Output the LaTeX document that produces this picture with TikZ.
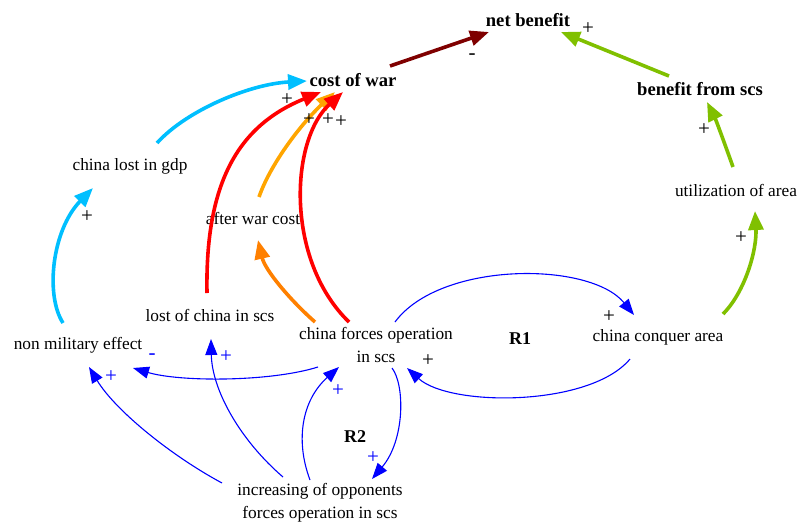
\documentclass[tikz,border=0pt]{standalone}
\usepackage{fontspec}
\setmainfont{Liberation Serif}
\usetikzlibrary{arrows.meta,calc}

\definecolor{darkred}{HTML}{7F0000}
\definecolor{lime}{HTML}{80C000}
\definecolor{sky}{HTML}{00BFFF}
\definecolor{amber}{HTML}{FFA500}
\definecolor{darkorange}{HTML}{FF8000}
\definecolor{linkblue}{HTML}{0000FF}

\tikzset{
  var/.style={inner sep=0pt, align=center, font=\fontsize{17.3}{23}\selectfont},
  keyvar/.style={var, font=\fontsize{18.6}{23}\selectfont\bfseries},
  looplabel/.style={var, font=\fontsize{18}{23}\selectfont\bfseries},
  heavy/.style={line width=3.6pt, -{Triangle[length=19pt,width=15pt]}},
  thin/.style={line width=1.1pt, linkblue, -{Triangle[length=16pt,width=12pt]}},
  pol/.style={inner sep=0pt, font=\fontsize{21}{23}\selectfont},
  bpol/.style={pol, text=linkblue}
}

\begin{document}
\begin{tikzpicture}[x=1pt,y=-1pt]
\useasboundingbox (0,0) rectangle (797,523);

% variables
\node[keyvar] (nb)  at (528,20)  {net benefit};
\node[keyvar] (cw)  at (353,80)  {cost of war};
\node[keyvar] (bs)  at (700,89)  {benefit from scs};
\node[var]    (gdp) at (130,166) {china lost in gdp};
\node[var]    (aw)  at (253,218) {after war cost};
\node[var]    (ua)  at (736,190) {utilization of area};
\node[var]    (lc)  at (210,315) {lost of china in scs};
\node[var]    (cf)  at (376,345) {china forces operation\\in scs};
\node[var]    (nm)  at (78,345)  {non military effect};
\node[var]    (ca)  at (658,337) {china conquer area};
\node[var]    (inc) at (320,503) {increasing of opponents\\forces operation in scs};

% loop markers
\node[looplabel] (r1) at (520,339) {R1};
\node[looplabel] (r2) at (355,437) {R2};

% heavy links towards the top of the diagram
\draw[heavy, darkred] ($(cw)+(37,-14)$) -- ($(nb)+(-39,12)$);
\draw[heavy, lime] ($(bs)+(-31,-13)$) -- ($(nb)+(33,12)$);
\draw[heavy, lime] ($(ua)+(-3,-23)$) .. controls (727,150) and (716,120) .. ($(bs)+(7,13)$);
\draw[heavy, lime] ($(ca)+(65,-23)$) .. controls (745,292) and (757,250) .. ($(ua)+(19,21)$);
\draw[heavy, sky] ($(gdp)+(27,-23)$) .. controls (187,110) and (250,84) .. ($(cw)+(-46,1)$);
\draw[heavy, sky] ($(nm)+(-15,-22)$) .. controls (45,295) and (52,230) .. ($(gdp)+(-37,22)$);
\draw[heavy, red] ($(lc)+(-3,-22)$) .. controls (205,180) and (240,125) .. ($(cw)+(-32,12)$);
\draw[heavy, amber] ($(aw)+(6,-21)$) .. controls (270,165) and (300,125) .. ($(cw)+(-18,12)$);
\draw[heavy, red] ($(cf)+(-27,-23)$) .. controls (285,260) and (290,140) .. ($(cw)+(-10,12)$);
\draw[heavy, darkorange] ($(cf)+(-61,-23)$) .. controls (290,300) and (265,270) .. ($(aw)+(5,22)$);

% thin links of the two loops
\draw[thin] ($(cf)+(-58,22)$) .. controls (270,382) and (180,382) .. ($(nm)+(55,23)$);
\draw[thin] ($(cf)+(19,-23)$) .. controls (440,261) and (590,261) .. ($(ca)+(-24,-22)$);
\draw[thin] ($(ca)+(-28,22)$) .. controls (590,407) and (450,407) .. ($(cf)+(31,23)$);
\draw[thin] ($(cf)+(16,23)$) .. controls (405,385) and (405,440) .. ($(inc)+(52,-24)$);
\draw[thin] ($(inc)+(-10,-23)$) .. controls (295,440) and (302,400) .. ($(cf)+(-37,22)$);
\draw[thin] ($(inc)+(-37,-26)$) .. controls (240,440) and (212,390) .. ($(lc)+(1,24)$);
\draw[thin] ($(inc)+(-98,-20)$) .. controls (170,455) and (115,410) .. ($(nm)+(11,22)$);

% link polarities
\node[pol] (p1) at (472,57) {-};
\node[pol] (p2) at (588,29) {+};
\node[pol] (p3) at (704,130) {+};
\node[pol] (p4) at (741,238) {+};
\node[pol] (p5) at (287,100) {+};
\node[pol] (p6) at (87,217) {+};
\node[pol] (p7) at (309,120) {+};
\node[pol] (p8) at (328,120) {+};
\node[pol] (p9) at (341,122) {+};
\node[pol] (p10) at (428,361) {+};
\node[pol] (p11) at (609,317) {+};
\node[bpol] (p12) at (152,357) {-};
\node[bpol] (p13) at (111,377) {+};
\node[bpol] (p14) at (226,357) {+};
\node[bpol] (p15) at (338,391) {+};
\node[bpol] (p16) at (373,458) {+};
\end{tikzpicture}
\end{document}
